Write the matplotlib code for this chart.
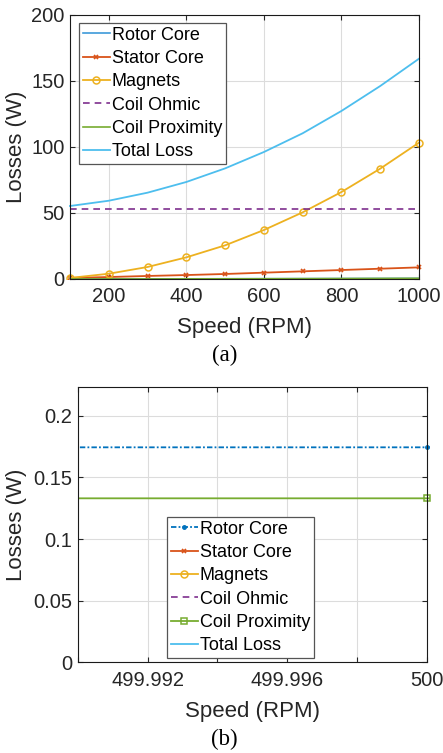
import matplotlib
matplotlib.use("Agg")
import matplotlib.pyplot as plt
from matplotlib.transforms import Bbox, TransformedBbox, blended_transform_factory

plt.rcParams['font.family'] = ['Liberation Sans', 'DejaVu Sans']

speed = [100, 200, 300, 400, 500, 600, 700, 800, 900, 1000]
rotor_core = [0.02, 0.05, 0.09, 0.13, 0.1745, 0.22, 0.27, 0.33, 0.39, 0.45]
stator_core = [0.8, 1.5, 2.3, 3.0, 3.8, 4.8, 5.8, 6.8, 7.8, 8.8]
magnets = [0.8, 4.0, 9.1, 16.4, 25.5, 37.1, 50.5, 65.9, 83.6, 103.3]
coil_ohmic = [53.3] * 10
coil_prox = [0.005, 0.02, 0.05, 0.085, 0.1331, 0.19, 0.26, 0.34, 0.43, 0.53]
total_loss = [55.3, 59.3, 65.4, 73.5, 83.8, 96.2, 110.4, 127.3, 146.2, 166.9]
labels = ['Rotor Core', 'Stator Core', 'Magnets', 'Coil Ohmic', 'Coil Proximity', 'Total Loss']

C_BLUE = '#0072BD'
C_ORANGE = '#D95319'
C_YELLOW = '#EDB120'
C_PURPLE = '#7E2F8E'
C_GREEN = '#77AC30'
C_LBLUE = '#4DBEEE'
TXT = '#262626'

W, H = 443, 753
fig = plt.figure(figsize=(W / 100, H / 100), dpi=100)

TICK_FS = 14.5
LAB_FS = 16
LEG_FS = 13

def style(ax):
    ax.grid(True, color='#dcdcdc', linewidth=0.8)
    ax.set_axisbelow(True)
    ax.tick_params(direction='in', top=True, right=True, labelsize=TICK_FS,
                   colors=TXT, length=3.5, width=0.8)
    ax.tick_params(axis='x', pad=6)
    ax.tick_params(axis='y', pad=4)
    for s in ax.spines.values():
        s.set_color('#1a1a1a')
        s.set_linewidth(0.8)

def labels_xy(ax, xlab_y_px, ylab_x_px, ax_bottom_px, ax_h_px):
    ax.set_xlabel('Speed (RPM)', fontsize=LAB_FS, color=TXT)
    ax.set_ylabel('Losses (W)', fontsize=LAB_FS, color=TXT)
    ax.xaxis.set_label_coords(0.5, -(xlab_y_px - ax_bottom_px) / ax_h_px)
    ax.xaxis.label.set_va('center')
    ax.yaxis.set_label_coords(ylab_x_px / W, 0.5,
                              transform=blended_transform_factory(fig.transFigure, ax.transAxes))
    ax.yaxis.label.set_va('center')

def legend(ax, x, y):
    leg = ax.legend(loc='upper left', bbox_to_anchor=(x / W, 1 - y / H),
                    bbox_transform=fig.transFigure, fontsize=LEG_FS, frameon=True,
                    fancybox=False, edgecolor='#555555', framealpha=1,
                    handlelength=1.5, handletextpad=0.12, labelspacing=0.35,
                    borderpad=0.2, borderaxespad=0)
    leg.get_frame().set_linewidth(0.9)
    return leg

# ---- (a)
ax1 = fig.add_axes([70 / W, 1 - 279 / H, (419 - 70) / W, (279 - 15) / H])
ax1.plot(speed, rotor_core, color='#3D9AD9', lw=1.2, label=labels[0])
ax1.plot(speed, stator_core, color=C_ORANGE, lw=1.3, marker='x', ms=3, mew=1.2, label=labels[1])
ax1.plot(speed, magnets, color=C_YELLOW, lw=1.3, marker='o', ms=5, mfc='none', mew=1.1, label=labels[2])
ax1.plot(speed, coil_ohmic, color=C_PURPLE, lw=1.2, ls=(0, (4, 3)), label=labels[3])
ax1.plot(speed, coil_prox, color=C_GREEN, lw=1.2, label=labels[4])
ax1.plot(speed, total_loss, color=C_LBLUE, lw=1.3, label=labels[5])
ax1.set_xlim(100, 1000)
ax1.set_ylim(0, 200)
ax1.set_xticks([200, 400, 600, 800, 1000])
ax1.set_yticks([0, 50, 100, 150, 200])
style(ax1)
labels_xy(ax1, 328, 17, 279, 264)
for line in ax1.get_lines():
    line.set_clip_box(TransformedBbox(Bbox([[-0.012, 0], [1.012, 1]]), ax1.transAxes))
legend(ax1, 79, 23)
fig.text(225 / W, 1 - 355 / H, '(a)', ha='center', va='center',
         fontsize=16.5, family='Liberation Serif', color='black')

# ---- (b)
ax2 = fig.add_axes([78 / W, 1 - 662.3 / H, (426.7 - 78) / W, (662.3 - 386.7) / H])
ax2.plot(speed, rotor_core, color=C_BLUE, lw=1.3, ls=(0, (3, 1.2, 1, 1.2)), marker='.', ms=5, label=labels[0])
ax2.plot(speed, stator_core, color=C_ORANGE, lw=1.3, marker='x', ms=3, mew=1.2, label=labels[1])
ax2.plot(speed, magnets, color=C_YELLOW, lw=1.3, marker='o', ms=5, mfc='none', mew=1.1, label=labels[2])
ax2.plot(speed, coil_ohmic, color=C_PURPLE, lw=1.2, ls=(0, (4, 3)), label=labels[3])
ax2.plot(speed, coil_prox, color=C_GREEN, lw=1.3, marker='s', ms=4, mfc='none', mew=1.1, label=labels[4])
ax2.plot(speed, total_loss, color=C_LBLUE, lw=1.3, label=labels[5])
ax2.set_xlim(499.990, 500.0)
ax2.set_ylim(0, 0.2237)
ax2.set_xticks([499.990, 499.992, 499.994, 499.996, 499.998, 500.0])
ax2.set_xticklabels(['', '499.992', '', '499.996', '', '500'])
ax2.set_yticks([0, 0.05, 0.1, 0.15, 0.2])
ax2.set_yticklabels(['0', '0.05', '0.1', '0.15', '0.2'])
style(ax2)
labels_xy(ax2, 712, 17, 662.3, 275.6)
for line in ax2.get_lines():
    line.set_clip_box(TransformedBbox(Bbox([[0, 0], [1.01, 1]]), ax2.transAxes))
legend(ax2, 167, 517)
fig.text(224 / W, 1 - 739 / H, '(b)', ha='center', va='center',
         fontsize=16.5, family='Liberation Serif', color='black')

fig.savefig('out.png', dpi=100)
